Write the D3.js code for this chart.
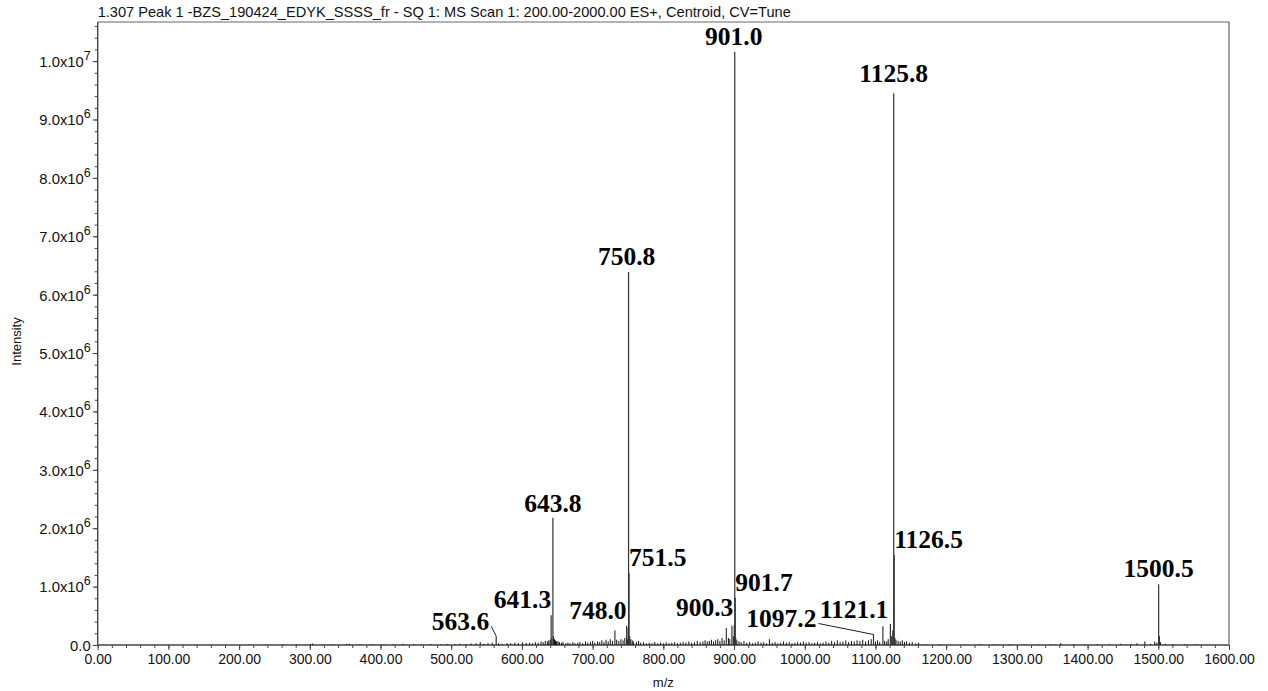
<!DOCTYPE html>
<html>
<head>
<meta charset="utf-8">
<script src="https://cdn.jsdelivr.net/npm/d3@7"></script>
<style>
  html, body { margin: 0; padding: 0; background: #fff; }
  svg { display: block; }
  .tick text { font-family: "Liberation Sans", Arial, sans-serif; }
</style>
</head>
<body>
<svg id="chart" width="1268" height="691"></svg>
<script>
// ---- Data -------------------------------------------------------------
const titleText = "1.307 Peak 1 -BZS_190424_EDYK_SSSS_fr - SQ 1: MS Scan 1: 200.00-2000.00 ES+, Centroid, CV=Tune";
const xAxisTitle = "m/z";
const yAxisTitle = "Intensity";

// Labelled centroid peaks: m/z and intensity (x10^6 counts)
const peakMz = [563.6, 641.3, 643.8, 748.0, 750.8, 751.5, 900.3, 901.0, 901.7, 1097.2, 1121.1, 1125.8, 1126.5, 1500.5];
const peakInt = [0.15, 0.51, 2.18, 0.33, 6.39, 1.23, 0.34, 10.16, 0.81, 0.18, 0.36, 9.45, 1.54, 1.04];
const peakLabels = ["563.6", "641.3", "643.8", "748.0", "750.8", "751.5", "900.3", "901.0", "901.7", "1097.2", "1121.1", "1125.8", "1126.5", "1500.5"];

// Unlabelled minor centroids [m/z, intensity x10^6]
const minorPeaks = [
  [214,0.01],[238,0.008],[262,0.012],[281,0.01],[301,0.02],[304,0.025],[318,0.012],[333,0.01],[352,0.018],[356,0.022],
  [371,0.01],[389,0.012],[405,0.01],[418,0.015],[432,0.02],[447,0.012],[458,0.01],[471,0.015],[486,0.012],[494,0.018],
  [505,0.015],[512,0.02],[521,0.018],[528,0.025],
  [535,0.03],[541,0.05],[546,0.02],[552,0.03],[558,0.04],[567,0.03],[572,0.02],[579,0.035],[584,0.03],[590,0.04],
  [595,0.03],[601,0.045],[606,0.035],[611,0.04],[615,0.03],[619,0.05],[623,0.04],[627,0.06],[630,0.05],[633,0.07],
  [636,0.06],[638,0.08],
  [640,0.09],[642.3,0.12],[644.8,0.15],[646,0.1],[647.5,0.08],[649,0.06],[651,0.07],[653,0.05],[656,0.04],[658,0.05],
  [662,0.03],[665,0.04],[668,0.03],[672,0.05],[675,0.03],[679,0.04],[682,0.05],[686,0.03],[690,0.06],[693,0.04],
  [697,0.05],[700,0.07],[703,0.04],[707,0.06],[710,0.05],[713,0.08],[716,0.05],[719,0.09],[722,0.06],[725,0.1],
  [728,0.07],[731.5,0.25],[734,0.09],[737,0.07],[740,0.1],[743,0.08],[745.5,0.12],[749,0.1],[750.2,0.3],[752.5,0.15],
  [754,0.1],[756,0.08],[758,0.06],
  [762,0.05],[765,0.07],[768,0.04],[772,0.05],[776,0.03],[780,0.04],[784,0.03],[788,0.05],[792,0.03],[796,0.04],
  [800,0.03],[804,0.05],[808,0.03],[812,0.04],[816,0.05],[820,0.03],[824,0.04],[828,0.05],[832,0.04],[836,0.06],
  [840,0.04],[844,0.05],[848,0.07],[852,0.05],[856,0.06],[859,0.08],[862,0.06],[865,0.07],[868,0.09],[871,0.06],
  [874,0.08],[877,0.1],[880,0.07],[883,0.12],[886,0.08],[889,0.29],[892,0.12],[894,0.1],[897,0.33],[899,0.15],
  [902.5,0.12],[904,0.08],[907,0.06],[910,0.05],[914,0.07],[918,0.04],[922,0.05],[926,0.03],[930,0.04],[934,0.06],
  [938,0.04],[942,0.05],[946,0.03],[950,0.1],[954,0.04],[958,0.05],[962,0.03],[966,0.04],[970,0.06],[974,0.04],
  [978,0.05],[982,0.03],[986,0.04],[990,0.05],[994,0.04],[998,0.06],[1002,0.04],[1006,0.05],[1010,0.03],[1014,0.04],
  [1018,0.05],[1022,0.03],[1026,0.04],[1030,0.06],[1034,0.04],[1038,0.07],[1042,0.05],[1046,0.08],[1050,0.05],[1054,0.06],
  [1058,0.08],[1062,0.05],[1066,0.07],[1070,0.06],[1074,0.08],[1078,0.07],[1082,0.09],[1086,0.06],[1090,0.08],[1094,0.1],
  [1100,0.06],[1103,0.08],[1106,0.05],[1110.5,0.32],[1113,0.07],[1116,0.06],[1118,0.1],[1123,0.15],[1124.5,0.25],[1127.5,0.12],
  [1129,0.09],[1132,0.07],[1135,0.06],[1138,0.08],[1141,0.05],[1144,0.06],[1148,0.04],[1152,0.05],[1157,0.03],[1161,0.04],
  [1172,0.01],[1190,0.012],[1208,0.008],[1226,0.01],[1247,0.012],[1268,0.01],[1290,0.015],[1310,0.01],[1331,0.012],[1348,0.01],
  [1362,0.03],[1380,0.012],[1396,0.01],[1414,0.015],[1431,0.012],[1447,0.02],[1462,0.015],[1470,0.03],[1481,0.06],[1489,0.02],
  [1495,0.06],[1498,0.04],[1501.5,0.15],[1503,0.05],[1510,0.02],[1521,0.015],[1537,0.012],[1552,0.01]
];

// Axis ticks
const xMajorTicks = d3.range(0, 1601, 100);
const xMinorTicks = d3.range(0, 1601, 20);
const yMajorTicks = d3.range(0, 10.01, 1);          // x10^6
const yMinorTicks = d3.range(0, 10.61, 0.2);        // x10^6

// ---- Layout -----------------------------------------------------------
// Label placement relative to each peak apex: [anchor, dx, dy, leader]
const labelPlacement = {
  "563.6":  ["end",   -7, -6, true],
  "641.3":  ["end",    0, -7, false],
  "643.8":  ["middle", 0, -6, false],
  "748.0":  ["end",    0, -7, false],
  "750.8":  ["middle",-2, -7, false],
  "751.5":  ["start",  0, -7, false],
  "900.3":  ["end",   -1, -9, false],
  "901.0":  ["middle",-1, -7, false],
  "901.7":  ["start",  0, -7, false],
  "1097.2": ["end",  -57, -7, true],
  "1121.1": ["end",   -2, -6, false],
  "1125.8": ["middle", 0, -11, false],
  "1126.5": ["start",  0, -7, false],
  "1500.5": ["middle", 0, -7, false]
};

const plot = { left: 97.7, right: 1229, top: 22, bottom: 645 };
const svg = d3.select("#chart");

const x = d3.scaleLinear().domain([0, 1600]).range([plot.left, plot.right]);
const y = d3.scaleLinear().domain([0, 10.67]).range([plot.bottom, plot.top]);

const sans = '"Liberation Sans", Arial, sans-serif';
const serif = '"Liberation Serif", "Times New Roman", serif';
const axisColor = "#444";

// Title
svg.append("text")
  .attr("x", plot.left).attr("y", 17)
  .attr("font-family", sans).attr("font-size", 14.6)
  .attr("fill", "#111")
  .text(titleText);

// Frame (top and right edges)
svg.append("path")
  .attr("d", `M${plot.left},${plot.top}H${plot.right}V${plot.bottom}`)
  .attr("fill", "none").attr("stroke", "#666").attr("stroke-width", 1.2);

// Y axis: minor ticks, then major ticks with exponent labels
const yMinor = svg.append("g").attr("transform", `translate(${plot.left},0)`)
  .call(d3.axisLeft(y).tickValues(yMinorTicks).tickSize(3).tickFormat(""));
yMinor.select(".domain").remove();
yMinor.selectAll(".tick line").attr("stroke", axisColor);

const yMajor = svg.append("g").attr("transform", `translate(${plot.left},0)`)
  .call(d3.axisLeft(y).tickValues(yMajorTicks).tickSize(5).tickFormat(""));
yMajor.select(".domain").attr("stroke", axisColor).attr("stroke-width", 1.4)
  .attr("d", `M0,${plot.top}V${plot.bottom}`);
yMajor.selectAll(".tick line").attr("stroke", axisColor);
yMajor.selectAll(".tick").each(function(d) {
  const t = d3.select(this).append("text")
    .attr("x", -7).attr("dy", "0.36em")
    .attr("text-anchor", "end")
    .attr("font-family", sans).attr("font-size", 14.8).attr("fill", "#111");
  if (d === 0) {
    t.text("0.0");
  } else {
    const exp = d >= 10 ? 7 : 6;
    const mant = d >= 10 ? d / 10 : d;
    t.append("tspan").text(mant.toFixed(1) + "x10");
    t.append("tspan").attr("dy", -7).attr("font-size", 12.5).text(exp);
  }
});

// X axis
const xMinor = svg.append("g").attr("transform", `translate(0,${plot.bottom})`)
  .call(d3.axisBottom(x).tickValues(xMinorTicks).tickSize(3).tickFormat(""));
xMinor.select(".domain").remove();
xMinor.selectAll(".tick line").attr("stroke", axisColor);

const xMajor = svg.append("g").attr("transform", `translate(0,${plot.bottom})`)
  .call(d3.axisBottom(x).tickValues(xMajorTicks).tickSize(5).tickPadding(4)
    .tickFormat(d => d.toFixed(2)));
xMajor.select(".domain").attr("stroke", axisColor).attr("stroke-width", 1.4)
  .attr("d", `M${plot.left},0H${plot.right}`);
xMajor.selectAll(".tick line").attr("stroke", axisColor);
xMajor.selectAll(".tick text")
  .attr("font-family", sans).attr("font-size", 14).attr("fill", "#111");

// Axis titles
svg.append("text")
  .attr("x", x(800)).attr("y", 687)
  .attr("text-anchor", "middle")
  .attr("font-family", sans).attr("font-size", 13).attr("fill", "#111")
  .text(xAxisTitle);

svg.append("text")
  .attr("transform", `translate(21,${(plot.top + plot.bottom) / 2 + 8}) rotate(-90)`)
  .attr("text-anchor", "middle")
  .attr("font-family", sans).attr("font-size", 13).attr("fill", "#111")
  .text(yAxisTitle);

// Spectrum sticks
const sticks = svg.append("g");
sticks.selectAll("line.minor")
  .data(minorPeaks)
  .join("line").attr("class", "minor")
  .attr("x1", d => x(d[0])).attr("x2", d => x(d[0]))
  .attr("y1", y(0)).attr("y2", d => y(d[1]))
  .attr("stroke", "#111").attr("stroke-width", 1);

const peaks = peakMz.map((mz, i) => ({ mz, v: peakInt[i], label: peakLabels[i] }));
sticks.selectAll("line.peak")
  .data(peaks)
  .join("line").attr("class", "peak")
  .attr("x1", d => x(d.mz)).attr("x2", d => x(d.mz))
  .attr("y1", y(0)).attr("y2", d => y(d.v))
  .attr("stroke", "#333").attr("stroke-width", 1.2);

// Peak labels with optional leader lines
const labels = svg.append("g");
peaks.forEach(p => {
  const [anchor, dx, dy, leader] = labelPlacement[p.label];
  const px = x(p.mz), py = y(p.v);
  const tx = px + dx, ty = py + dy;
  labels.append("text")
    .attr("x", tx).attr("y", ty)
    .attr("text-anchor", anchor)
    .attr("font-family", serif).attr("font-weight", "bold")
    .attr("font-size", 25.5).attr("fill", "#000")
    .text(p.label);
  if (leader) {
    labels.append("path")
      .attr("d", `M${tx + 2},${ty - 4}L${px},${py}`)
      .attr("fill", "none").attr("stroke", "#222").attr("stroke-width", 1);
  }
});
</script>
</body>
</html>
